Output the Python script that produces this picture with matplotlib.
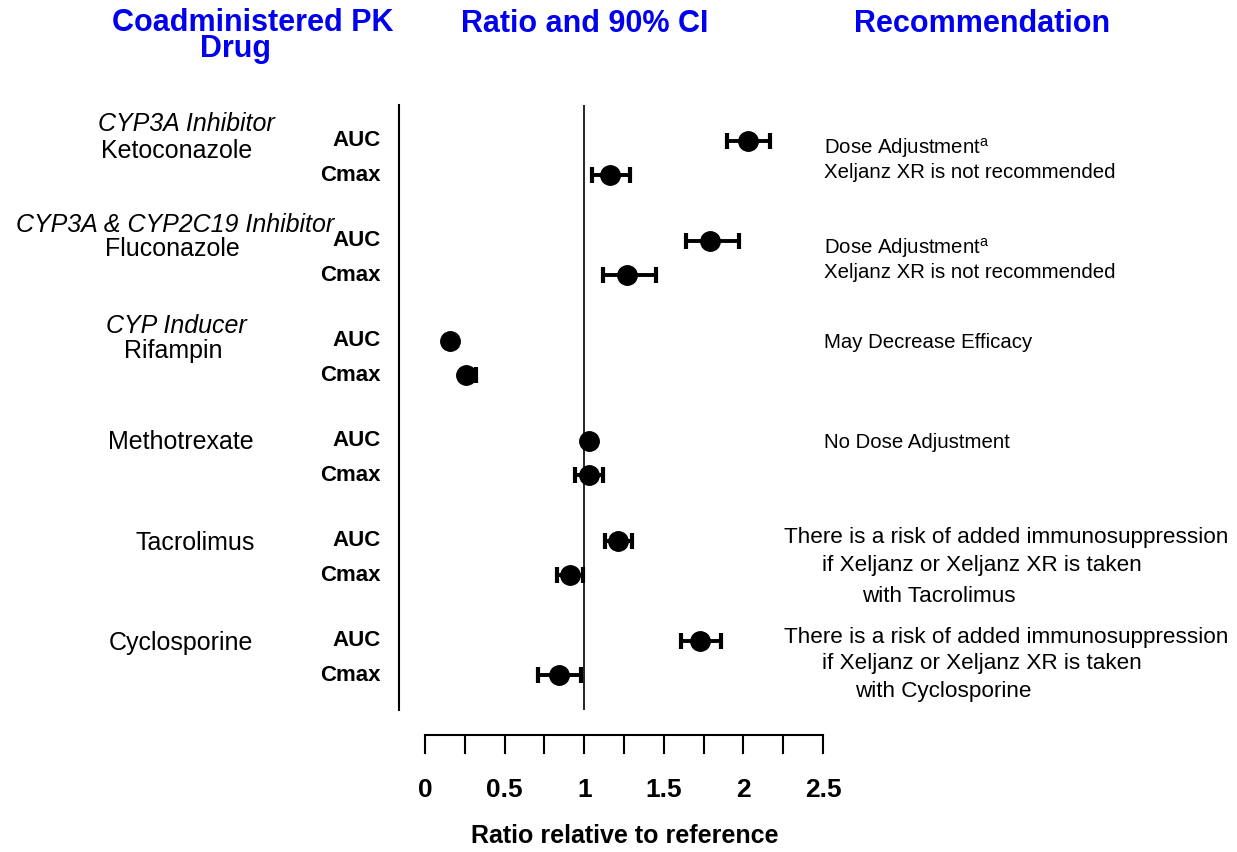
import matplotlib
matplotlib.use("Agg")
import matplotlib.pyplot as plt
from matplotlib.ticker import MultipleLocator
import numpy as np

plt.rcParams['font.family'] = ['Liberation Sans', 'DejaVu Sans']

# ---- data ----
drugs = ["Ketoconazole", "Fluconazole", "Rifampin", "Methotrexate", "Tacrolimus", "Cyclosporine"]
drug_classes = ["CYP3A Inhibitor", "CYP3A & CYP2C19 Inhibitor", "CYP Inducer", "", "", ""]
pk_params = ["AUC", "Cmax"]
auc_ratio = [2.03, 1.79, 0.16, 1.03, 1.21, 1.73]
auc_lo    = [1.90, 1.64, 0.15, 1.01, 1.13, 1.61]
auc_hi    = [2.17, 1.97, 0.17, 1.05, 1.30, 1.86]
cmax_ratio = [1.16, 1.27, 0.26, 1.03, 0.91, 0.84]
cmax_lo    = [1.05, 1.12, 0.24, 0.94, 0.83, 0.71]
cmax_hi    = [1.29, 1.45, 0.32, 1.12, 0.99, 0.98]
recommendations = [
    ["Dose Adjustment$^{\\mathregular{a}}$", "Xeljanz XR is not recommended"],
    ["Dose Adjustment$^{\\mathregular{a}}$", "Xeljanz XR is not recommended"],
    ["May Decrease Efficacy"],
    ["No Dose Adjustment"],
    ["There is a risk of added immunosuppression", "if Xeljanz or Xeljanz XR is taken", "with Tacrolimus"],
    ["There is a risk of added immunosuppression", "if Xeljanz or Xeljanz XR is taken", "with Cyclosporine"],
]
xticks = [0, 0.5, 1, 1.5, 2, 2.5]
xtick_labels = ["0", "0.5", "1", "1.5", "2", "2.5"]

W, H = 1237, 852
fig = plt.figure(figsize=(W / 100, H / 100), dpi=100)

def fx(px):
    return px / W

def fy(py):
    return 1 - py / H

# axes placement (pixels)
ax_l, ax_r, ax_t, ax_b = 399, 850, 105, 710
ax = fig.add_axes([fx(ax_l), fy(ax_b), (ax_r - ax_l) / W, (ax_b - ax_t) / H])

x0_px, x25_px = 425, 823
scale = (x25_px - x0_px) / 2.5
ax.set_xlim((ax_l - x0_px) / scale, (ax_r - x0_px) / scale)

row_gap = 0.345
ax.set_ylim(5 + row_gap + 0.35, -0.36)

y_auc = np.arange(len(drugs))
y_cmax = y_auc + row_gap

err_kw = dict(fmt='o', color='black', ms=14, elinewidth=2.8, capsize=6, capthick=3)
ax.errorbar(auc_ratio, y_auc,
            xerr=[np.array(auc_ratio) - np.array(auc_lo), np.array(auc_hi) - np.array(auc_ratio)],
            **err_kw)
ax.errorbar(cmax_ratio, y_cmax,
            xerr=[np.array(cmax_ratio) - np.array(cmax_lo), np.array(cmax_hi) - np.array(cmax_ratio)],
            **err_kw)

ax.axvline(1, color='black', lw=1.2)

for s in ['top', 'right']:
    ax.spines[s].set_visible(False)
ax.spines['left'].set_linewidth(1.5)
ax.spines['bottom'].set_position(('outward', 18))
ax.spines['bottom'].set_bounds(0, 2.5)
ax.spines['bottom'].set_linewidth(1.5)
ax.set_yticks([])
ax.set_xticks(xticks)
ax.set_xticklabels(xtick_labels, fontsize=19, fontweight='bold')
ax.xaxis.set_minor_locator(MultipleLocator(0.25))
ax.tick_params(axis='x', which='both', length=14, width=1.5, pad=17)
ax.set_xlabel("Ratio relative to reference", fontsize=18, fontweight='bold', labelpad=16)

# PK parameter labels
for i in range(len(drugs)):
    ax.text(-0.28, y_auc[i], pk_params[0], ha='right', va='center', fontsize=16, fontweight='bold')
    ax.text(-0.28, y_cmax[i], pk_params[1], ha='right', va='center', fontsize=16, fontweight='bold')

# drug labels (pixel positions)
name_x = [177, 172, 173, 181, 195, 181]
name_y = [151, 249, 351, 442, 543, 643]
class_x = [186, 175, 176]
class_y = [124, 225, 326]
for i, d in enumerate(drugs):
    fig.text(fx(name_x[i]), fy(name_y[i]), d, ha='center', va='center', fontsize=18)
    if drug_classes[i]:
        fig.text(fx(class_x[i]), fy(class_y[i]), drug_classes[i], ha='center', va='center',
                 fontsize=18, style='italic')

# recommendations (pixel positions, font size)
rec_pos = [
    [(824, 148, 14.7), (824, 172, 14.7)],
    [(824, 248, 14.7), (824, 273, 14.7)],
    [(824, 342, 14.7)],
    [(824, 442, 14.7)],
    [(784, 537, 16.2), (822, 565, 16.2), (862, 596, 16.2)],
    [(784, 638, 16.2), (822, 664, 16.2), (855, 691, 16.2)],
]
for lines, poss in zip(recommendations, rec_pos):
    for txt, (px, py, fs) in zip(lines, poss):
        fig.text(fx(px), fy(py), txt, ha='left', va='center', fontsize=fs)

# headers
hdr = dict(color='#0000ee', fontsize=22, fontweight='bold', ha='center', va='center')
fig.text(fx(253), fy(36), "Coadministered PK\nDrug    ", multialignment='center',
         linespacing=0.85, **hdr)
fig.text(fx(585), fy(24), "Ratio and 90% CI", **hdr)
fig.text(fx(982), fy(24), "Recommendation", **hdr)

fig.savefig("out.png", dpi=100)
